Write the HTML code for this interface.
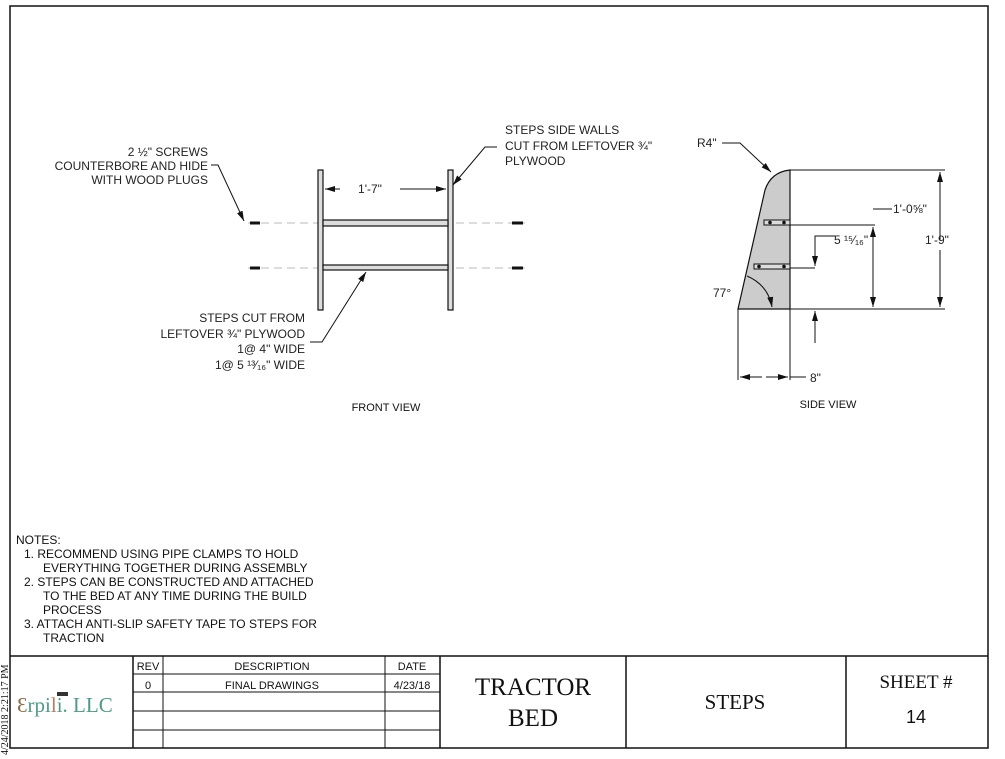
<!DOCTYPE html>
<html><head><style>
html,body{margin:0;padding:0;background:#fff;}
svg{display:block;}
.h{font-family:"Liberation Sans",sans-serif;font-size:12px;fill:#222;}
.n{font-family:"Liberation Sans",sans-serif;font-size:12px;fill:#111;}
.t{font-family:"Liberation Sans",sans-serif;font-size:11px;fill:#111;}
.s{font-family:"Liberation Serif",serif;fill:#111;}
</style></head><body>
<svg width="1005" height="759" viewBox="0 0 1005 759" xmlns="http://www.w3.org/2000/svg">
<defs>
<marker id="a" viewBox="0 0 10 6" refX="10" refY="3" markerWidth="10" markerHeight="6" orient="auto" markerUnits="userSpaceOnUse"><path d="M0,0 L10,3 L0,6z" fill="#111"/></marker>
</defs>
<rect x="10" y="6" width="978" height="742" fill="none" stroke="#111" stroke-width="1.5"/>
<!-- FRONT VIEW -->
<g stroke="#bbb" stroke-dasharray="8,5" stroke-width="1">
<line x1="248" y1="223" x2="525" y2="223"/><line x1="248" y1="268" x2="525" y2="268"/></g>
<g stroke="#111" stroke-width="3"><line x1="250" y1="223" x2="260" y2="223"/><line x1="512" y1="223" x2="523" y2="223"/><line x1="250" y1="268" x2="260" y2="268"/><line x1="512" y1="268" x2="523" y2="268"/></g>
<g fill="#ddd" stroke="#111" stroke-width="1.2">
<rect x="318" y="170" width="5" height="140"/><rect x="448" y="170" width="5" height="140"/>
<rect x="323" y="220" width="125" height="6"/><rect x="323" y="265" width="125" height="5"/></g>
<g stroke="#111" stroke-width="1" fill="none">
<line x1="340" y1="189" x2="325" y2="189" marker-end="url(#a)"/><line x1="400" y1="189" x2="446" y2="189" marker-end="url(#a)"/>
<polyline points="211,165 218,165 244,221" marker-end="url(#a)"/>
<polyline points="497,147 485,147 453,185" marker-end="url(#a)"/>
<polyline points="310,342 322,342 366,272" marker-end="url(#a)"/>
</g>
<text class="h" x="370" y="193" text-anchor="middle">1'-7"</text>
<text class="h" x="208" y="156" text-anchor="end">2 ½" SCREWS</text>
<text class="h" x="208" y="170" text-anchor="end">COUNTERBORE AND HIDE</text>
<text class="h" x="208" y="184" text-anchor="end">WITH WOOD PLUGS</text>
<text class="h" x="505" y="134">STEPS SIDE WALLS</text>
<text class="h" x="505" y="150">CUT FROM LEFTOVER ¾"</text>
<text class="h" x="505" y="165">PLYWOOD</text>
<text class="h" x="305" y="322" text-anchor="end">STEPS CUT FROM</text>
<text class="h" x="305" y="338" text-anchor="end">LEFTOVER ¾" PLYWOOD</text>
<text class="h" x="305" y="353" text-anchor="end">1@ 4" WIDE</text>
<text class="h" x="305" y="369" text-anchor="end">1@ 5 ¹³⁄₁₆" WIDE</text>
<text class="t" x="386" y="411" text-anchor="middle">FRONT VIEW</text>
<!-- SIDE VIEW -->
<path d="M738,309 L765,190 Q771,172 790,170 L790,309 Z" fill="#ccc" stroke="#111" stroke-width="1.2"/>
<g stroke="#111" stroke-width="1" fill="none">
<rect x="764" y="220" width="26" height="5" fill="#ddd"/>
<rect x="754" y="264" width="36" height="5" fill="#ddd"/>
<line x1="790" y1="170" x2="945" y2="170"/><line x1="790" y1="309" x2="945" y2="309"/>
<line x1="790" y1="225" x2="875" y2="225"/><line x1="790" y1="268" x2="815" y2="268"/>
<line x1="940" y1="240" x2="940" y2="172" marker-end="url(#a)"/><line x1="940" y1="250" x2="940" y2="307" marker-end="url(#a)"/>
<line x1="873" y1="260" x2="873" y2="227" marker-end="url(#a)"/><line x1="873" y1="260" x2="873" y2="307" marker-end="url(#a)"/>
<polyline points="873,209 892,209"/>
<polyline points="835,236 815,236 815,266" marker-end="url(#a)"/>
<line x1="815" y1="343" x2="815" y2="311" marker-end="url(#a)"/>
<line x1="738" y1="309" x2="738" y2="380"/><line x1="790" y1="309" x2="790" y2="380"/>
<line x1="762" y1="377" x2="740" y2="377" marker-end="url(#a)"/><line x1="766" y1="377" x2="788" y2="377" marker-end="url(#a)"/>
<line x1="790" y1="377" x2="806" y2="377"/>
<polyline points="722,143 740,143 771,172" marker-end="url(#a)"/>
<path d="M747,276 Q768,285 772,307" marker-end="url(#a)"/>
</g>
<g fill="#111"><circle cx="770" cy="222.5" r="1.8"/><circle cx="784" cy="222.5" r="1.8"/><circle cx="759" cy="266.5" r="1.8"/><circle cx="784" cy="266.5" r="1.8"/></g>
<text class="h" x="697" y="147">R4"</text>
<text class="h" x="893" y="213">1'-0⅝"</text>
<text class="h" x="834" y="244">5 ¹⁵⁄₁₆"</text>
<text class="h" x="925" y="244">1'-9"</text>
<text class="h" x="713" y="297">77°</text>
<text class="h" x="810" y="382">8"</text>
<text class="t" x="828" y="408" text-anchor="middle">SIDE VIEW</text>
<!-- NOTES -->
<text class="n" x="16" y="544">NOTES:</text>
<text class="n" x="24" y="558">1.  RECOMMEND USING PIPE CLAMPS TO HOLD</text>
<text class="n" x="43" y="572">EVERYTHING TOGETHER DURING ASSEMBLY</text>
<text class="n" x="24" y="586">2.  STEPS CAN BE CONSTRUCTED AND ATTACHED</text>
<text class="n" x="43" y="600">TO THE BED AT ANY TIME DURING THE BUILD</text>
<text class="n" x="43" y="614">PROCESS</text>
<text class="n" x="24" y="628">3.  ATTACH ANTI-SLIP SAFETY TAPE TO STEPS FOR</text>
<text class="n" x="43" y="642">TRACTION</text>
<!-- TITLE BLOCK -->
<g stroke="#111" stroke-width="1.5" fill="none">
<line x1="10" y1="656" x2="988" y2="656"/>
<line x1="133" y1="656" x2="133" y2="748"/><line x1="440" y1="656" x2="440" y2="748"/>
<line x1="626" y1="656" x2="626" y2="748"/><line x1="846" y1="656" x2="846" y2="748"/>
</g>
<g stroke="#111" stroke-width="1" fill="none">
<line x1="163" y1="656" x2="163" y2="748"/><line x1="385" y1="656" x2="385" y2="748"/>
<line x1="133" y1="674" x2="440" y2="674"/><line x1="133" y1="692" x2="440" y2="692"/>
<line x1="133" y1="711" x2="440" y2="711"/><line x1="133" y1="730" x2="440" y2="730"/>
</g>
<text class="t" x="148" y="670" text-anchor="middle">REV</text>
<text class="t" x="272" y="670" text-anchor="middle">DESCRIPTION</text>
<text class="t" x="412" y="670" text-anchor="middle">DATE</text>
<text class="t" x="148" y="689" text-anchor="middle">0</text>
<text class="t" x="272" y="689" text-anchor="middle">FINAL DRAWINGS</text>
<text class="t" x="412" y="689" text-anchor="middle">4/23/18</text>
<rect x="57" y="692" width="11" height="4" fill="#333"/>
<text class="s" x="17" y="712" font-size="21"><tspan fill="#8a6a4a">Ɛ</tspan><tspan fill="#4e9a8a">rpi</tspan><tspan fill="#c07a5a">l</tspan><tspan fill="#4e9a8a">i. LLC</tspan></text>
<text class="s" x="533" y="695" font-size="25" text-anchor="middle">TRACTOR</text>
<text class="s" x="533" y="726" font-size="25" text-anchor="middle">BED</text>
<text class="s" x="735" y="709" font-size="21" text-anchor="middle">STEPS</text>
<text class="s" x="916" y="688" font-size="19" text-anchor="middle">SHEET #</text>
<text x="916" y="723" font-family="Liberation Sans,sans-serif" font-size="18" fill="#111" text-anchor="middle">14</text>
<text transform="translate(8,755) rotate(-90)" class="s" font-size="10" fill="#333">4/24/2018 2:21:17 PM</text>
</svg>
</body></html>
